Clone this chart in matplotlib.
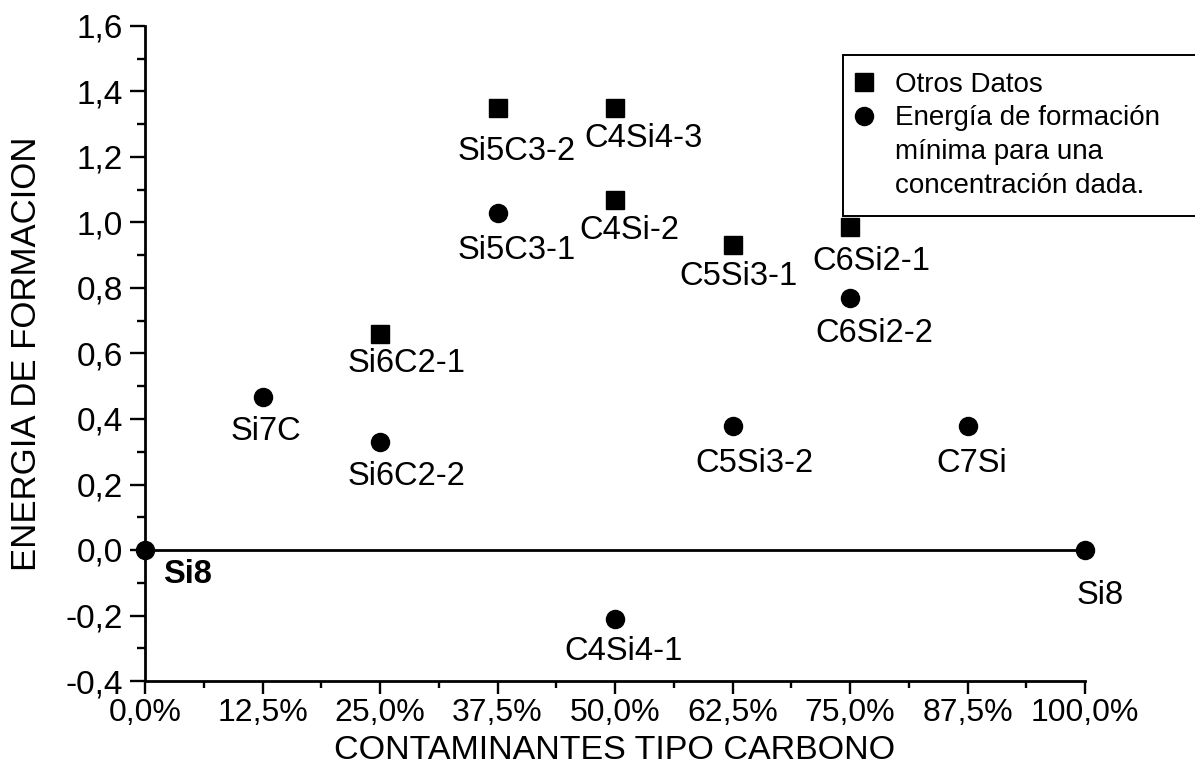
import matplotlib
matplotlib.use("Agg")
import matplotlib.pyplot as plt
from matplotlib.lines import Line2D
from matplotlib.ticker import MultipleLocator, FuncFormatter

plt.rcParams['font.family'] = ['Liberation Sans', 'DejaVu Sans']

# Porcentaje de carbono y energia de formacion de cada configuracion
otros_x = [37.5, 50.0, 50.0, 62.5, 75.0, 25.0]
otros_y = [1.35, 1.35, 1.07, 0.93, 0.985, 0.66]
otros_nombres = ["Si5C3-2", "C4Si4-3", "C4Si-2", "C5Si3-1", "C6Si2-1", "Si6C2-1"]

minimos_x = [12.5, 25.0, 37.5, 50.0, 62.5, 75.0, 87.5]
minimos_y = [0.467, 0.33, 1.03, -0.21, 0.38, 0.77, 0.38]
minimos_nombres = ["Si7C", "Si6C2-2", "Si5C3-1", "C4Si4-1", "C5Si3-2", "C6Si2-2", "C7Si"]

puros_x = [0.0, 100.0]
puros_y = [0.0, 0.0]
puros_nombres = ["Si8", "Si8"]

# desplazamiento de cada etiqueta respecto al punto (px: izquierda, centro vertical)
desplaz = {
    "Si5C3-2": (-40, 40), "C4Si4-3": (-31, 27), "C4Si-2": (-36, 27),
    "C5Si3-1": (-53, 28), "C6Si2-1": (-38, 31), "Si6C2-1": (-32, 26),
    "Si7C": (-32, 31), "Si6C2-2": (-32, 31), "Si5C3-1": (-40, 34),
    "C4Si4-1": (-51, 29), "C5Si3-2": (-37, 34), "C6Si2-2": (-35, 32),
    "C7Si": (-31, 34),
}

DPI = 100
fig = plt.figure(figsize=(11.95, 7.67), dpi=DPI)
ax = fig.add_axes([145 / 1195, 1 - 681 / 767, 940 / 1195, 655 / 767])

ax.plot(puros_x, puros_y, color='black', lw=2.0, marker='o', ms=13, clip_on=False, zorder=3)
ax.plot(otros_x, otros_y, ls='none', marker='s', ms=12.5, color='black', zorder=3)
ax.plot(minimos_x, minimos_y, ls='none', marker='o', ms=13, color='black', zorder=3)

FS = 23.5
px = 72 / DPI
for xs, ys, nombres in [(otros_x, otros_y, otros_nombres), (minimos_x, minimos_y, minimos_nombres)]:
    for x, y, n in zip(xs, ys, nombres):
        dx, dy = desplaz[n]
        ax.annotate(n, (x, y), xytext=(dx * px, -(dy + 12) * px), textcoords='offset points',
                    ha='left', va='baseline', fontsize=FS)

ax.annotate(puros_nombres[0], (puros_x[0], puros_y[0]), xytext=(18 * px, -33 * px),
            textcoords='offset points', ha='left', va='baseline', fontsize=FS, fontweight='bold')
ax.annotate(puros_nombres[1], (puros_x[1], puros_y[1]), xytext=(-8 * px, -54 * px),
            textcoords='offset points', ha='left', va='baseline', fontsize=FS)

ax.set_xlim(0, 100)
ax.set_ylim(-0.4, 1.6)
ax.xaxis.set_major_locator(MultipleLocator(12.5))
ax.xaxis.set_minor_locator(MultipleLocator(6.25))
ax.yaxis.set_major_locator(MultipleLocator(0.2))
ax.yaxis.set_minor_locator(MultipleLocator(0.1))
ax.xaxis.set_major_formatter(FuncFormatter(lambda v, p: f"{v:.1f}%".replace('.', ',')))
ax.yaxis.set_major_formatter(FuncFormatter(lambda v, p: f"{v:.1f}".replace('.', ',').replace('-0,0', '0,0')))

for s in ['top', 'right']:
    ax.spines[s].set_visible(False)
for s in ['left', 'bottom']:
    ax.spines[s].set_linewidth(2.0)
ax.tick_params(axis='x', which='major', length=9, width=1.7, labelsize=23, pad=3)
ax.tick_params(axis='x', which='minor', length=5, width=1.7)
ax.tick_params(axis='y', which='major', length=11, width=1.7, labelsize=24, pad=5)
ax.tick_params(axis='y', which='minor', length=6, width=1.7)

ax.set_xlabel("CONTAMINANTES TIPO CARBONO", fontsize=24.5)
ax.set_ylabel("ENERGIA DE FORMACION", fontsize=25)
ax.xaxis.set_label_coords(0.5, (681 - 735) / 655)
ax.yaxis.set_label_coords((43 - 145) / 940, 0.5)

handles = [
    Line2D([], [], ls='none', marker='s', ms=12.5, color='black'),
    Line2D([], [], ls='none', marker='o', ms=13, color='black'),
    Line2D([], [], ls='none'),
    Line2D([], [], ls='none'),
]
labels = ["Otros Datos", "Energía de formación", "mínima para una", "concentración dada."]
leg = ax.legend(handles, labels, loc='upper left', mode='expand',
                bbox_to_anchor=(843 / 1195, 0.5, 0.35, 1 - 55 / 767 - 0.5),
                bbox_transform=fig.transFigure, borderaxespad=0, fontsize=20,
                frameon=True, fancybox=False, framealpha=1, edgecolor='black',
                handlelength=0.3, handletextpad=0.97, labelspacing=0.28, borderpad=0.6)
leg.get_frame().set_linewidth(1.4)

fig.savefig("out.png", dpi=DPI)
